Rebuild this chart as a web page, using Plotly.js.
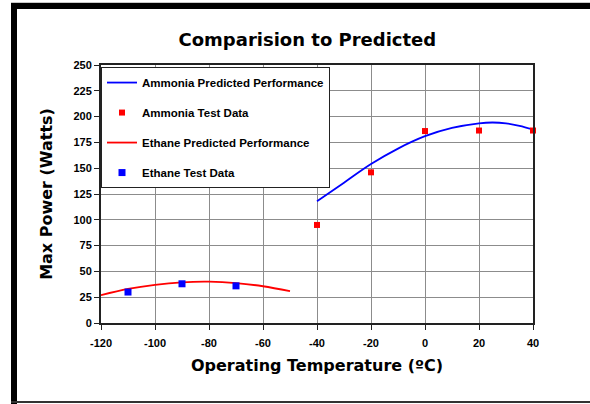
<!DOCTYPE html>
<html>
<head>
<meta charset="utf-8">
<script src="https://cdn.plot.ly/plotly-3.0.1.min.js"></script>
<style>
  html, body { margin: 0; padding: 0; background: #fff; }
  #wrap { position: relative; width: 590px; height: 404px; overflow: hidden; }
  #chart { position: absolute; left: 0; top: 0; width: 590px; height: 404px; }
  .frame { position: absolute; pointer-events: none; }
</style>
</head>
<body>
<div id="wrap">
  <div id="chart"></div>
  <div class="frame" style="left:11px; top:2px; width:579px; height:1px; background:#c8c8c8;"></div>
  <div class="frame" style="left:11px; top:3px; width:579px; height:6px; background:#000;"></div>
  <div class="frame" style="left:11px; top:3px; width:6px; height:401px; background:#000;"></div>
  <div class="frame" style="left:11px; top:401px; width:579px; height:2px; background:#333;"></div>
</div>
<script>
// ---- data ----
const ammoniaPredX = [-40, -30, -20, -10, 0, 10, 20, 25, 30, 35, 40];
const ammoniaPredY = [118, 136, 154, 169, 181, 189, 193.5, 194.3, 193.5, 191, 187.5];
const ammoniaTestX = [-40, -20, 0, 20, 40];
const ammoniaTestY = [95, 146, 186, 186.5, 186.5];
const ethanePredX = [-120, -110, -100, -90, -80, -70, -60, -50];
const ethanePredY = [27, 33, 37, 39.4, 40, 38.7, 35.6, 30.8];
const ethaneTestX = [-110, -90, -70];
const ethaneTestY = [30, 38, 36];
const xTickVals = [-120, -100, -80, -60, -40, -20, 0, 20, 40];
const yTickVals = [0, 25, 50, 75, 100, 125, 150, 175, 200, 225, 250];

const FONT = 'Liberation Sans, Arial, Helvetica, sans-serif';
const TFONT = 'DejaVu Sans, Liberation Sans, Arial, sans-serif';

const traces = [
  { name: 'Ammonia Predicted Performance', x: ammoniaPredX, y: ammoniaPredY,
    type: 'scatter', mode: 'lines', line: { color: '#0000FF', width: 1.8, shape: 'spline', smoothing: 1 },
    legendgroup: 'a' },
  { name: 'Ammonia Test Data', x: ammoniaTestX, y: ammoniaTestY,
    type: 'scatter', mode: 'markers', marker: { symbol: 'square', size: 6, color: '#FF0000' },
    legendgroup: 'b', cliponaxis: false },
  { name: 'Ethane Predicted Performance', x: ethanePredX, y: ethanePredY,
    type: 'scatter', mode: 'lines', line: { color: '#FF0000', width: 1.8, shape: 'spline', smoothing: 1 },
    legendgroup: 'c' },
  { name: 'Ethane Test Data', x: ethaneTestX, y: ethaneTestY,
    type: 'scatter', mode: 'markers', marker: { symbol: 'square', size: 7, color: '#0000FF' },
    legendgroup: 'd' }
];

const layout = {
  width: 590, height: 404,
  margin: { l: 101, r: 57, t: 65, b: 81, pad: 0 },
  paper_bgcolor: '#FFFFFF', plot_bgcolor: '#FFFFFF',
  font: { family: FONT, size: 11, color: '#000', weight: 'bold' },
  title: { text: 'Comparision to Predicted', x: 0.521, xref: 'container', xanchor: 'center',
           y: 1 - 40 / 404, yref: 'container', yanchor: 'middle',
           font: { family: TFONT, size: 18, color: '#000', weight: 'bold' } },
  xaxis: {
    range: [-120, 40], tickvals: xTickVals, ticktext: xTickVals.map(String),
    showgrid: true, gridcolor: '#8c8c8c', gridwidth: 1, zeroline: false,
    showline: true, linecolor: '#222', linewidth: 2, mirror: true,
    ticks: 'outside', ticklen: 5, tickcolor: '#222', tickwidth: 1,
    ticklabelstandoff: 4,
    tickfont: { family: FONT, size: 11, color: '#000', weight: 'bold' },
    title: { text: 'Operating Temperature (ºC)', standoff: 12,
             font: { family: TFONT, size: 16, color: '#000', weight: 'bold' } },
    automargin: false, fixedrange: true
  },
  yaxis: {
    range: [0, 250], tickvals: yTickVals, ticktext: yTickVals.map(String),
    showgrid: true, gridcolor: '#8c8c8c', gridwidth: 1, zeroline: false,
    showline: true, linecolor: '#222', linewidth: 2, mirror: true,
    ticks: 'outside', ticklen: 5, tickcolor: '#222', tickwidth: 1,
    tickfont: { family: FONT, size: 11, color: '#000', weight: 'bold' },
    title: { text: 'Max Power (Watts)', standoff: 17,
             font: { family: TFONT, size: 16, color: '#000', weight: 'bold' } },
    automargin: false, fixedrange: true
  },
  showlegend: true,
  legend: {
    x: 0, xanchor: 'left', y: 0.992, yanchor: 'top',
    bgcolor: '#FFFFFF', bordercolor: '#222', borderwidth: 1,
    font: { family: FONT, size: 11.5, color: '#000', weight: 'bold' },
    traceorder: 'grouped', tracegroupgap: 11
  }
};

Plotly.newPlot('chart', traces, layout, { staticPlot: true, displayModeBar: false });
</script>
</body>
</html>
